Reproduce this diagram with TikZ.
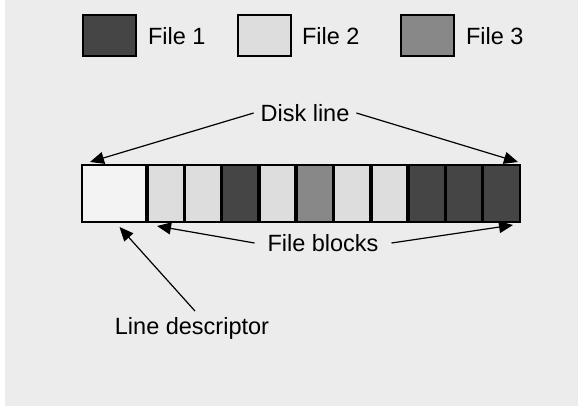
\documentclass[tikz,border=0pt]{standalone}
\usepackage{fontspec}
\setmainfont{Liberation Sans}
\usetikzlibrary{arrows.meta}
\definecolor{bggray}{HTML}{ECECEC}
\definecolor{fileone}{HTML}{454545}
\definecolor{filetwo}{HTML}{DDDDDD}
\definecolor{filethree}{HTML}{888888}
\definecolor{descfill}{HTML}{F3F3F3}
\begin{document}
\begin{tikzpicture}[x=1pt,y=-1pt,
  cell/.style={draw=black, line width=1.5pt, anchor=north west, minimum height=57pt, inner sep=0pt, outer sep=0pt},
  legbox/.style={draw=black, line width=2pt, anchor=north west, minimum width=53pt, minimum height=41pt, inner sep=0pt, outer sep=0pt},
  lbl/.style={font=\fontsize{23.5}{26}\selectfont, inner sep=0pt, outer sep=0pt},
  divider/.style={line width=3.5pt},
  arr/.style={line width=1.2pt, -{Triangle[length=14pt,width=12pt]}}]
\useasboundingbox (0,0) rectangle (578,407);
\fill[white] (0,0) rectangle (578,407);
\fill[bggray] (5,0) rectangle (578,406);
% legend
\node[legbox, fill=fileone] (k1) at (83,15) {};
\node[lbl, anchor=west] (t1) at (148,36) {File 1};
\node[legbox, fill=filetwo] (k2) at (238,15) {};
\node[lbl, anchor=west] (t2) at (302,36) {File 2};
\node[legbox, fill=filethree] (k3) at (401,15) {};
\node[lbl, anchor=west] (t3) at (466,36) {File 3};
% disk line cells
\node[cell, fill=descfill, minimum width=65pt] (c0) at (82,165) {};
\node[cell, fill=filetwo, minimum width=37.3pt] (c1) at (147,165) {};
\node[cell, fill=filetwo, minimum width=37.3pt] (c2) at (184.3,165) {};
\node[cell, fill=fileone, minimum width=37.3pt] (c3) at (221.6,165) {};
\node[cell, fill=filetwo, minimum width=37.3pt] (c4) at (258.9,165) {};
\node[cell, fill=filethree, minimum width=37.3pt] (c5) at (296.2,165) {};
\node[cell, fill=filetwo, minimum width=37.3pt] (c6) at (333.5,165) {};
\node[cell, fill=filetwo, minimum width=37.3pt] (c7) at (370.8,165) {};
\node[cell, fill=fileone, minimum width=37.3pt] (c8) at (408.1,165) {};
\node[cell, fill=fileone, minimum width=37.3pt] (c9) at (445.4,165) {};
\node[cell, fill=fileone, minimum width=37.3pt] (c10) at (482.7,165) {};
\foreach \i in {1,...,10} {
  \draw[divider] (c\i.north west) -- (c\i.south west);
}
% labels
\node[lbl, inner xsep=7pt] (dl) at (305,113) {Disk line};
\node[lbl, inner xsep=13pt] (fb) at (323,243) {File blocks};
\node[lbl, inner ysep=6pt] (ld) at (192,328) {Line descriptor};
% arrows
\draw[arr] (dl.west) -- ([shift={(8,-3)}]c0.north west);
\draw[arr] (dl.east) -- ([shift={(-2,-3)}]c10.north east);
\draw[arr] (fb.west) -- ([shift={(10,4)}]c1.south west);
\draw[arr] (fb.east) -- ([shift={(-7,3)}]c10.south east);
\draw[arr] ([xshift=3pt]ld.north) -- ([shift={(5,5)}]c0.south);
\end{tikzpicture}
\end{document}
